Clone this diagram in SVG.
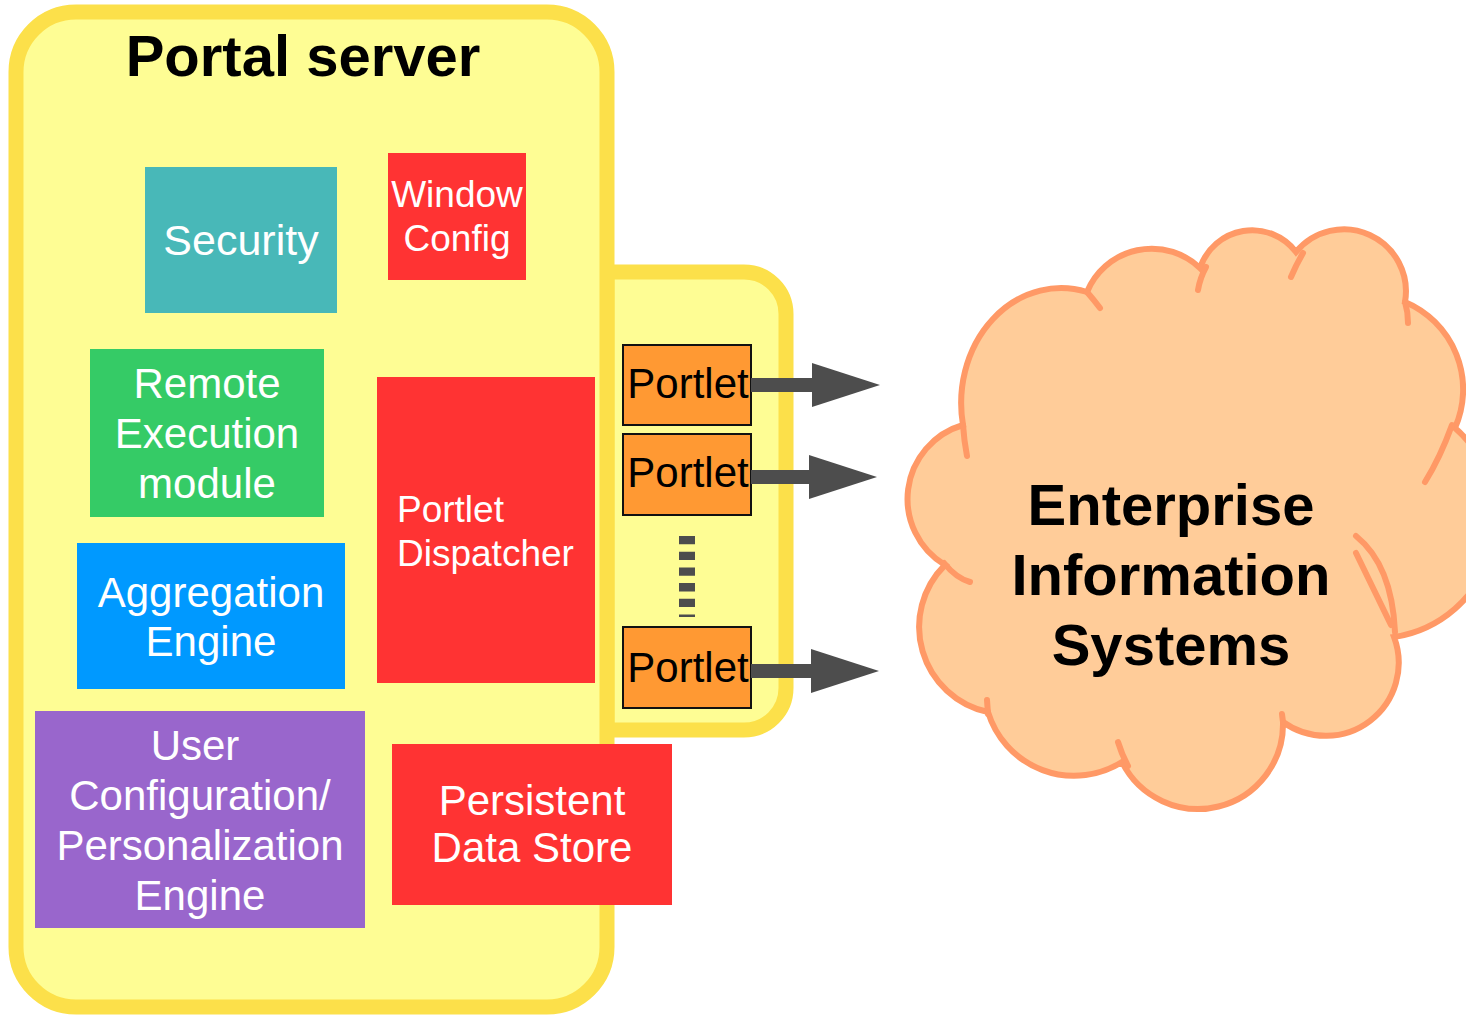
<svg xmlns="http://www.w3.org/2000/svg" width="1466" height="1016" viewBox="0 0 1466 1016">
<defs>
<style>
.frame{fill:#FEFD94;stroke:#FCE04A;stroke-width:15}
.lbl{font-family:"Liberation Sans",Arial,sans-serif;fill:#fff;text-anchor:middle}
.lft{text-anchor:start}
.big{font-family:"Liberation Sans",Arial,sans-serif;font-weight:bold;fill:#000;text-anchor:middle;font-size:58px}
.portlet rect{fill:#FF9933;stroke:#111;stroke-width:2}
.portlet text{font-family:"Liberation Sans",Arial,sans-serif;fill:#000;text-anchor:middle;font-size:42px}
.arrow{stroke:#4D4D4D;stroke-width:14;fill:none;marker-end:url(#head)}
.tick{fill:none;stroke:#FF9966;stroke-width:6;stroke-linecap:round}
</style>
<marker id="head" markerUnits="userSpaceOnUse" markerWidth="68" markerHeight="44" viewBox="0 0 68 44" refX="2" refY="22" orient="auto">
<path d="M0,0 L68,22 L0,44 Z" fill="#4D4D4D"/>
</marker>
</defs>
<rect width="1466" height="1016" fill="#fff"/>

<g id="portlet-container">
<path class="frame" d="M607,272 H744 A42,42 0 0 1 786,314 V688 A42,42 0 0 1 744,730 H607 Z"/>
</g>

<g id="portal-server">
<rect class="frame" x="16" y="12" width="591" height="995" rx="60" ry="60"/>
<text class="big" x="303" y="76">Portal server</text>
</g>

<g id="security">
<rect x="145" y="167" width="192" height="146" fill="#48B8B8"/>
<text class="lbl" x="241" y="255" font-size="43">Security</text>
</g>

<g id="window-config">
<rect x="388" y="153" width="138" height="127" fill="#FF3333"/>
<text class="lbl" x="457" y="207" font-size="37">Window</text>
<text class="lbl" x="457" y="251" font-size="37">Config</text>
</g>

<g id="remote-execution">
<rect x="90" y="349" width="234" height="168" fill="#35CB66"/>
<text class="lbl" x="207" y="398" font-size="42">Remote</text>
<text class="lbl" x="207" y="448" font-size="42">Execution</text>
<text class="lbl" x="207" y="498" font-size="42">module</text>
</g>

<g id="aggregation-engine">
<rect x="77" y="543" width="268" height="146" fill="#0099FF"/>
<text class="lbl" x="211" y="607" font-size="42">Aggregation</text>
<text class="lbl" x="211" y="656" font-size="42">Engine</text>
</g>

<g id="user-config">
<rect x="35" y="711" width="330" height="217" fill="#9966CC"/>
<text class="lbl" x="195" y="760" font-size="42">User</text>
<text class="lbl" x="200" y="810" font-size="42">Configuration/</text>
<text class="lbl" x="200" y="860" font-size="42">Personalization</text>
<text class="lbl" x="200" y="910" font-size="42">Engine</text>
</g>

<g id="portlet-dispatcher">
<rect x="377" y="377" width="218" height="306" fill="#FF3333"/>
<text class="lbl lft" x="397" y="522" font-size="37">Portlet</text>
<text class="lbl lft" x="397" y="566" font-size="37">Dispatcher</text>
</g>

<g id="persistent-data-store">
<rect x="392" y="744" width="280" height="161" fill="#FF3333"/>
<text class="lbl" x="532" y="815" font-size="42">Persistent</text>
<text class="lbl" x="532" y="862" font-size="42">Data Store</text>
</g>

<g id="portlet-1" class="portlet">
<rect x="623" y="345" width="128" height="80"/>
<text x="688" y="398">Portlet</text>
</g>
<g id="portlet-2" class="portlet">
<rect x="623" y="434" width="128" height="81"/>
<text x="688" y="487">Portlet</text>
</g>
<g id="portlet-ellipsis">
<line x1="687" y1="536" x2="687" y2="617" stroke="#4D4D4D" stroke-width="16" stroke-dasharray="8.3 7.4"/>
</g>
<g id="portlet-3" class="portlet">
<rect x="623" y="627" width="128" height="81"/>
<text x="688" y="682">Portlet</text>
</g>

<g id="enterprise-information-systems">
<path d="M963,425 A100,115 0 0 1 1087,292 A70,70 0 0 1 1200,268 A55,55 0 0 1 1296,252 A62,62 0 0 1 1405,302 A95,95 0 0 1 1455,428 A120,120 0 0 1 1394,637 A73,73 0 0 1 1283,722 A85,85 0 0 1 1122,762 A90,90 0 0 1 988,712 A87,87 0 0 1 945,565 A77,77 0 0 1 963,425 Z" fill="#FFCC99" stroke="#FF9966" stroke-width="6"/>
<path class="tick" d="M963,425 Q964,440 967,456"/>
<path class="tick" d="M1087,292 Q1094,300 1100,308"/>
<path class="tick" d="M1206,267 Q1200,278 1198,290"/>
<path class="tick" d="M1303,253 Q1296,265 1291,277"/>
<path class="tick" d="M1405,302 Q1408,312 1408,323"/>
<path class="tick" d="M1452,425 Q1440,458 1425,482"/>
<path class="tick" d="M1356,536 Q1392,565 1395,632"/>
<path class="tick" d="M1356,553 L1391,625"/>
<path class="tick" d="M944,563 Q956,578 970,582"/>
<path class="tick" d="M988,714 L987,700"/>
<path class="tick" d="M1118,742 Q1122,755 1128,766"/>
<path class="tick" d="M1283,722 L1282,714"/>
<text class="big" x="1171" y="525">Enterprise</text>
<text class="big" x="1171" y="595">Information</text>
<text class="big" x="1171" y="665">Systems</text>
</g>

<g id="connectors">
<line class="arrow" x1="751" y1="385" x2="814" y2="385"/>
<line class="arrow" x1="751" y1="477" x2="811" y2="477"/>
<line class="arrow" x1="751" y1="671" x2="813" y2="671"/>
</g>
</svg>
